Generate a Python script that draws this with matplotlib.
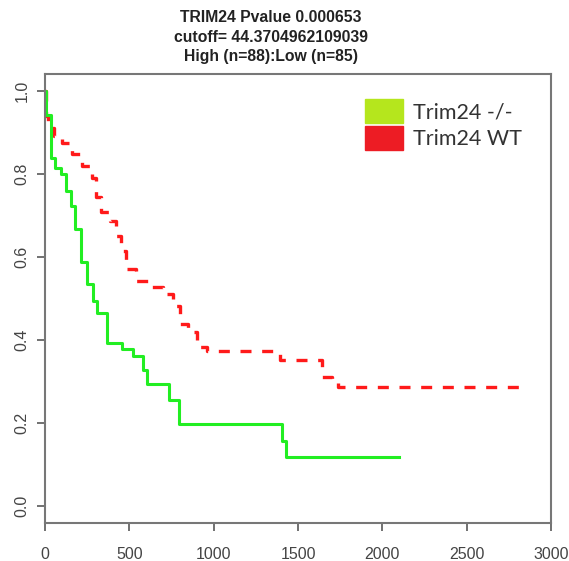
import matplotlib
matplotlib.use("Agg")
import matplotlib.pyplot as plt
from matplotlib.patches import Patch

# Kaplan-Meier step points (days, survival)
ko_time = [0, 8, 34, 59, 93, 125, 152, 180, 214, 251, 283, 310, 369, 455,
           524, 583, 606, 737, 796, 1403, 1428, 2100]
ko_surv = [1.0, 0.942, 0.837, 0.813, 0.80, 0.758, 0.722, 0.667, 0.588, 0.535,
           0.495, 0.465, 0.393, 0.379, 0.361, 0.329, 0.295, 0.257, 0.197,
           0.157, 0.118, 0.118]

wt_time = [0, 4, 20, 55, 100, 160, 220, 280, 300, 330, 385, 420, 450, 480,
           540, 620, 700, 760, 800, 850, 900, 960, 1395, 1645, 1700, 1740, 2860]
wt_surv = [1.0, 0.94, 0.91, 0.89, 0.875, 0.847, 0.818, 0.79, 0.745, 0.707,
           0.687, 0.651, 0.615, 0.571, 0.543, 0.528, 0.511, 0.483, 0.439,
           0.42, 0.384, 0.373, 0.351, 0.312, 0.303, 0.287, 0.287]

xticks = [0, 500, 1000, 1500, 2000, 2500, 3000]
yticks = [0.0, 0.2, 0.4, 0.6, 0.8, 1.0]
title_lines = ["TRIM24 Pvalue 0.000653",
               "cutoff= 44.3704962109039",
               "High (n=88):Low (n=85)"]
legend_labels = ["Trim24 -/-", "Trim24 WT"]

W, H = 569, 561
fig = plt.figure(figsize=(W / 100, H / 100), dpi=100)
ax = fig.add_axes([45 / W, 38 / H, (551 - 45) / W, (487 - 38) / H])

ax.step(wt_time, wt_surv, where="post", color="#ff1a1a", lw=2.4,
        dashes=(3.3, 3.2), dash_capstyle="butt")
ax.step(ko_time, ko_surv, where="post", color="#22ee22", lw=2.2)

ax.set_xlim(0, 3000)
ax.set_ylim(-0.04, 1.04)
ax.set_xticks(xticks)
ax.set_yticks(yticks)
ax.set_xticklabels([str(t) for t in xticks], fontsize=11.5, color="#444444",
                   family="Liberation Sans")
ax.set_yticklabels([f"{t:.1f}" for t in yticks], fontsize=11.5, color="#444444",
                   family="Liberation Sans", rotation=90, va="center")
ax.tick_params(length=6, width=1.3, color="#666666")
ax.tick_params(axis="x", pad=11)
ax.tick_params(axis="y", pad=5)
for sp in ax.spines.values():
    sp.set_color("#777777")
    sp.set_linewidth(1.5)

for i, line in enumerate(title_lines):
    fig.text(271 / W, 1 - (17 + 20 * i) / H, line, ha="center", va="center",
             fontsize=11.3, fontweight="bold", family="Liberation Sans",
             color="#222222")

handles = [Patch(color="#b5e61d"), Patch(color="#ed1c24")]
ax.legend(handles, legend_labels, loc="upper left",
          bbox_to_anchor=((346 - 45) / 506, 1 - (80 - 74) / 449),
          frameon=False, prop={"family": "Lato", "size": 15.5},
          handlelength=1.75, handleheight=1.3, handletextpad=0.45,
          labelspacing=0.15, labelcolor="#333333")

fig.savefig("out.png", dpi=100)
